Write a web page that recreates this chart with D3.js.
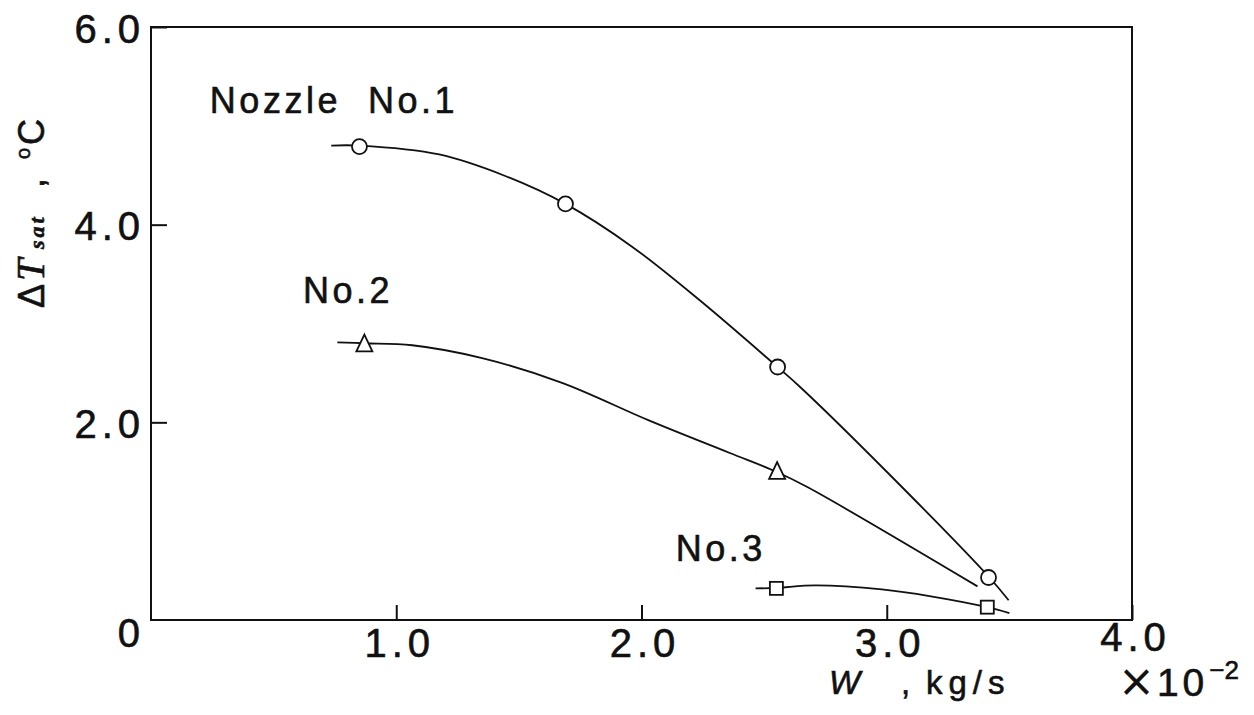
<!DOCTYPE html>
<html>
<head>
<meta charset="utf-8">
<script src="https://cdn.jsdelivr.net/npm/d3@7"></script>
<style>
  html, body { margin: 0; padding: 0; background: #fff; }
  svg { display: block; }
  text { font-family: "Liberation Sans", Arial, sans-serif; fill: #111; stroke: #111; stroke-width: 0.6px; }
</style>
</head>
<body>
<svg id="chart" width="1254" height="715"></svg>
<script>
// ---- data ----
const xTickValues = [1.0, 2.0, 3.0, 4.0];
const xTickLabels = ["1.0", "2.0", "3.0", "4.0"];
const yTickValues = [2.0, 4.0, 6.0];
const yTickLabels = ["2.0", "4.0", "6.0"];
const originLabel = "0";

// Nozzle No.1 (circles)
const no1Points = [[0.85, 4.79], [1.69, 4.21], [2.555, 2.56], [3.415, 0.43]];
const no1Curve = [[0.735, 4.80], [0.85, 4.80], [1.175, 4.71], [1.447, 4.49], [1.69, 4.21],
                  [1.96, 3.78], [2.235, 3.24], [2.55, 2.57], [2.65, 2.35], [3.0, 1.50],
                  [3.415, 0.44], [3.497, 0.20]];
// Nozzle No.2 (triangles)
const no2Points = [[0.87, 2.79], [2.553, 1.50]];
const no2Curve = [[0.76, 2.81], [0.87, 2.80], [1.065, 2.78], [1.35, 2.65], [1.676, 2.40],
                  [2.03, 2.02], [2.36, 1.69], [2.55, 1.50], [2.68, 1.34], [3.37, 0.34]];
// Nozzle No.3 (squares)
const no3Points = [[2.55, 0.32], [3.41, 0.13]];
const no3Curve = [[2.465, 0.32], [2.55, 0.325], [2.71, 0.35], [2.98, 0.31], [3.18, 0.24],
                  [3.41, 0.13], [3.50, 0.07]];

const seriesLabels = ["Nozzle  No.1", "No.2", "No.3"];

// ---- drawing ----
const svg = d3.select("#chart");
const x = d3.scaleLinear().domain([0, 4]).range([151, 1132]);
const y = d3.scaleLinear().domain([0, 6]).range([620, 27]);

const ink = "#111";
const sans = '"Liberation Sans", Arial, sans-serif';
const serif = '"Liberation Serif", "Times New Roman", serif';

// frame
svg.append("rect")
  .attr("x", x(0)).attr("y", y(6))
  .attr("width", x(4) - x(0)).attr("height", y(0) - y(6))
  .attr("fill", "none").attr("stroke", ink).attr("stroke-width", 2);

// x axis ticks + labels
const xAxis = d3.axisBottom(x)
  .tickValues(xTickValues)
  .tickSize(-15)
  .tickPadding(9)
  .tickFormat((d, i) => xTickLabels[i]);
const gx = svg.append("g").attr("transform", `translate(0,${y(0)})`).call(xAxis);
gx.select(".domain").remove();
gx.selectAll(".tick line").attr("stroke", ink).attr("stroke-width", 2);
gx.selectAll(".tick text")
  .attr("font-size", 40).attr("letter-spacing", 5)
  .attr("dx", 3).attr("dy", "0.71em")
  .attr("fill", ink)
  .style("font-family", sans);
gx.selectAll(".tick text").filter(d => d === 4).attr("dy", "0.55em");

// y axis ticks + labels
const yAxis = d3.axisLeft(y)
  .tickValues(yTickValues)
  .tickSize(-16)
  .tickPadding(6)
  .tickFormat((d, i) => yTickLabels[i]);
const gy = svg.append("g").attr("transform", `translate(${x(0)},0)`).call(yAxis);
gy.select(".domain").remove();
gy.selectAll(".tick line").attr("stroke", ink).attr("stroke-width", 2);
gy.selectAll(".tick text")
  .attr("font-size", 40).attr("letter-spacing", 5)
  .attr("dy", 15)
  .attr("fill", ink)
  .style("font-family", sans);

// origin label
svg.append("text")
  .attr("x", x(0) - 11).attr("y", y(0) + 27)
  .attr("text-anchor", "end")
  .attr("font-size", 40)
  .text(originLabel);

// x10^-2
const mult = svg.append("text").attr("x", 1118).attr("y", 696).attr("font-size", 39);
mult.append("tspan").text("×").attr("font-size", 44).style("font-family", '"DejaVu Sans", sans-serif')
  .style("stroke-width", "0.2px");
mult.append("tspan").text("10").attr("letter-spacing", 4).attr("dx", 2);
mult.append("tspan").text("−2").attr("font-size", 26).attr("dy", -17).attr("dx", 1);

// x axis title
const xt = svg.append("text").attr("x", 829).attr("y", 694).attr("font-size", 33);
xt.append("tspan").text("W").attr("font-style", "italic");
xt.append("tspan").text(",").attr("x", 901);
xt.append("tspan").text("kg/s").attr("x", 926).attr("letter-spacing", 6);

// y axis title (rotated)
const yt = svg.append("text")
  .attr("transform", "translate(44,308) rotate(-90)")
  .attr("font-size", 36);
yt.append("tspan").text("Δ").attr("x", 0);
yt.append("tspan").text("T").attr("x", 27).attr("font-style", "italic")
  .style("font-family", serif).attr("font-size", 40);
yt.append("tspan").text("sat").attr("x", 59).attr("font-style", "italic").attr("font-weight", "bold")
  .style("font-family", serif).attr("font-size", 22).attr("letter-spacing", 3);
yt.append("tspan").text(",").attr("x", 120);
yt.append("tspan").text("o").attr("x", 149).attr("font-size", 20).attr("dy", -14);
yt.append("tspan").text("C").attr("x", 163).attr("dy", 14);

// curves
const line = d3.line().x(d => x(d[0])).y(d => y(d[1])).curve(d3.curveCatmullRom.alpha(0.5));
[no1Curve, no2Curve, no3Curve].forEach(c => {
  svg.append("path").datum(c).attr("d", line)
    .attr("fill", "none").attr("stroke", ink).attr("stroke-width", 1.8);
});

// markers
svg.selectAll(".m1").data(no1Points).enter().append("circle")
  .attr("cx", d => x(d[0])).attr("cy", d => y(d[1])).attr("r", 7.5)
  .attr("fill", "#fff").attr("stroke", ink).attr("stroke-width", 1.8);

const triSize = 16;
svg.selectAll(".m2").data(no2Points).enter().append("path")
  .attr("transform", d => `translate(${x(d[0])},${y(d[1])})`)
  .attr("d", `M0,${-triSize * 0.6} L${triSize / 2},${triSize * 0.45} L${-triSize / 2},${triSize * 0.45} Z`)
  .attr("fill", "#fff").attr("stroke", ink).attr("stroke-width", 1.8);

const sq = 13;
svg.selectAll(".m3").data(no3Points).enter().append("rect")
  .attr("x", d => x(d[0]) - sq / 2).attr("y", d => y(d[1]) - sq / 2)
  .attr("width", sq).attr("height", sq)
  .attr("fill", "#fff").attr("stroke", ink).attr("stroke-width", 1.8);

// series labels
const labelPos = [[0.24, 5.13], [0.62, 3.21], [2.14, 0.60]];
seriesLabels.forEach((t, i) => {
  svg.append("text")
    .attr("x", x(labelPos[i][0])).attr("y", y(labelPos[i][1]))
    .attr("font-size", 36).attr("letter-spacing", 3.5)
    .style("white-space", "pre")
    .text(t);
});
</script>
</body>
</html>
